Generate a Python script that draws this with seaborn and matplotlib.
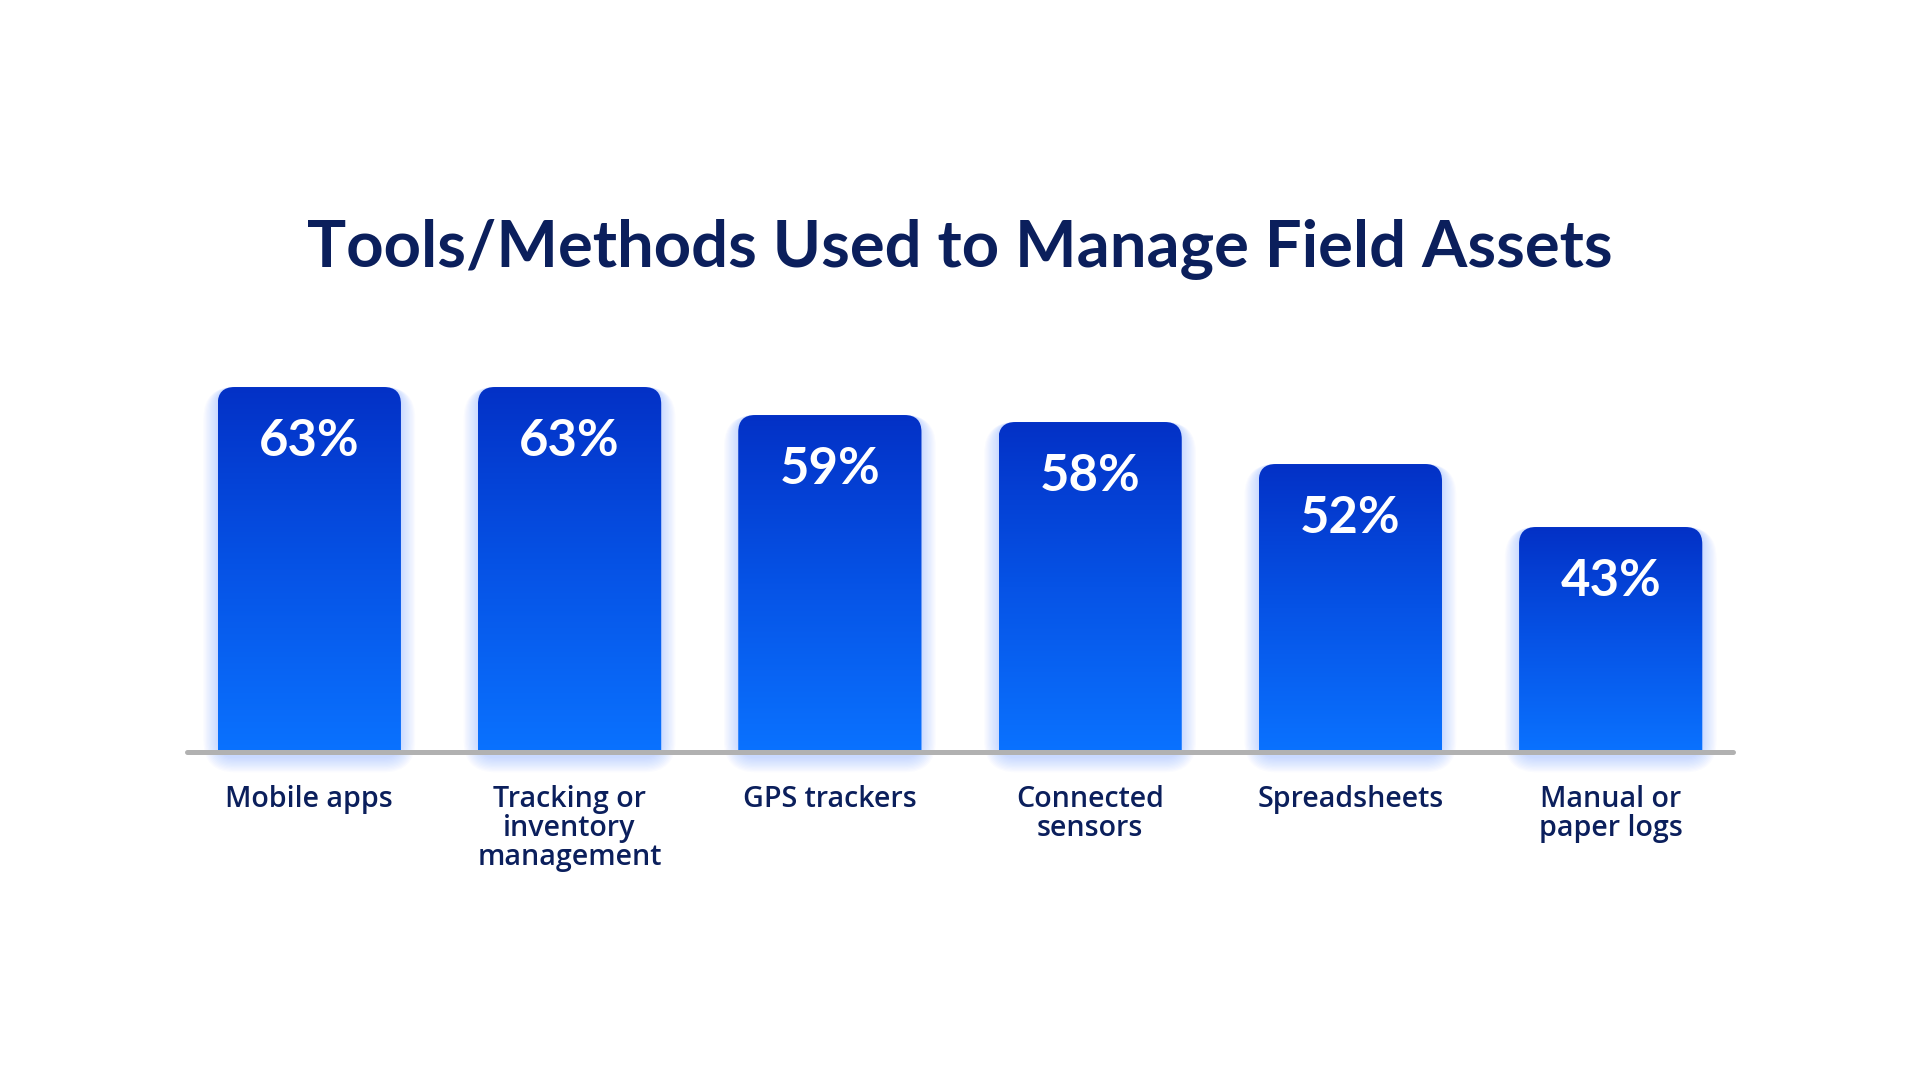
import numpy as np
import matplotlib
matplotlib.use("Agg")
import matplotlib.pyplot as plt
import seaborn as sns
import pandas as pd
from matplotlib.patches import FancyBboxPatch
from matplotlib.colors import LinearSegmentedColormap

# ---------------- data ----------------
categories = ["Mobile apps", "Tracking or inventory management", "GPS trackers",
              "Connected sensors", "Spreadsheets", "Manual or paper logs"]
tick_labels = ["Mobile apps", "Tracking or\ninventory\nmanagement", "GPS trackers",
               "Connected\nsensors", "Spreadsheets", "Manual or\npaper logs"]
values = [63, 63, 59, 58, 52, 43]
value_labels = ["63%", "63%", "59%", "58%", "52%", "43%"]
title = "Tools/Methods Used to Manage Field Assets"

# ---------------- style ----------------
sns.set_theme(style="white")
plt.rcParams['font.family'] = ['Lato', 'DejaVu Sans']

NAVY = "#0b1f5c"
W, H = 1920, 1080
fig = plt.figure(figsize=(19.2, 10.8), dpi=100)
fig.patch.set_facecolor("white")

base_px = 752
top_px = 300
ax = fig.add_axes([187 / W, (H - base_px) / H, 1546 / W, (base_px - top_px) / H])
ax.set_facecolor("none")

df = pd.DataFrame({"cat": categories, "val": values})
sns.barplot(data=df, x="cat", y="val", ax=ax, width=0.704, color="#0550e0",
            saturation=1, zorder=2)

y0 = 10.86
ppu_y = 7.0
ax.set_xlim(-0.47, 5.47)
ax.set_ylim(y0, y0 + (base_px - top_px) / ppu_y)

bbox = ax.get_window_extent()
xl = ax.get_xlim(); yl = ax.get_ylim()
sx = bbox.width / (xl[1] - xl[0])
sy = bbox.height / (yl[1] - yl[0])

cmap = LinearSegmentedColormap.from_list("bar", ["#0a72ff", "#0653e6", "#0331c6"])
grad = np.linspace(0, 1, 256).reshape(-1, 1)

radius_px = 17
for p, lab in zip(list(ax.patches), value_labels):
    x0 = p.get_x(); w = p.get_width(); top = p.get_height()
    p.set_visible(False)
    # soft drop shadow / glow
    for k in range(12):
        e = k * 1.3
        rx = (radius_px + e) / sx
        mut = ((radius_px + e) / sy) / rx
        sh = FancyBboxPatch((x0 - e / sx, y0 - (6 + e) / sy), w + 2 * e / sx,
                            (top - y0) + (6 + e) / sy,
                            boxstyle=f"round,pad=0,rounding_size={rx}",
                            mutation_aspect=mut, transform=ax.transData,
                            facecolor="#3a78ff", edgecolor="none", alpha=0.022,
                            zorder=1, clip_on=False)
        ax.add_patch(sh)
    rx = radius_px / sx
    mut = (radius_px / sy) / rx
    clip = FancyBboxPatch((x0, y0 - 5), w, top - (y0 - 5),
                          boxstyle=f"round,pad=0,rounding_size={rx}",
                          mutation_aspect=mut, transform=ax.transData,
                          facecolor="none", edgecolor="none", zorder=2)
    ax.add_patch(clip)
    im = ax.imshow(grad, extent=[x0, x0 + w, y0, top], origin="lower",
                   aspect="auto", cmap=cmap, zorder=2, interpolation="bicubic")
    im.set_clip_path(clip)
    ax.text(x0 + w / 2, top - 54 / sy, lab, ha="center", va="center",
            color="white", fontsize=36.5, fontweight="bold", zorder=4)

ax.set_xlim(xl); ax.set_ylim(yl)

# baseline
ax.plot([xl[0], xl[1]], [y0, y0], color="#b1b1b1", lw=3.6,
        solid_capstyle="round", clip_on=False, zorder=3)

for s in ax.spines.values():
    s.set_visible(False)
ax.set_yticks([])
ax.set_xlabel(""); ax.set_ylabel("")
ax.set_xticks(range(len(tick_labels)))
ax.set_xticklabels(tick_labels, fontsize=20.6, color=NAVY,
                   family=["Open Sans", "DejaVu Sans"], fontweight=600)
for t in ax.get_xticklabels():
    t.set_linespacing(1.0)
    t.set_verticalalignment("top")
ax.tick_params(axis="x", length=0, pad=23.5)

fig.text(0.5, (H - 267) / H, title, ha="center", va="baseline",
         fontsize=47, fontweight="bold", color=NAVY)

fig.savefig("out.png", dpi=100, facecolor="white")
